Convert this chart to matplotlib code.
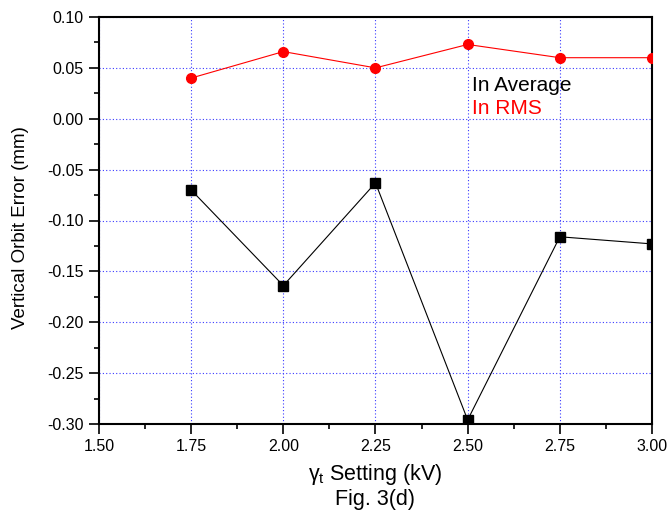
import matplotlib
matplotlib.use("Agg")
import matplotlib.pyplot as plt
from matplotlib.ticker import MultipleLocator, FormatStrFormatter

plt.rcParams['font.family'] = ['Liberation Sans', 'DejaVu Sans']
plt.rcParams['mathtext.fontset'] = 'custom'
plt.rcParams['mathtext.rm'] = 'Liberation Sans'
plt.rcParams['mathtext.it'] = 'Liberation Sans'
plt.rcParams['mathtext.bf'] = 'Liberation Sans:bold'

# Data
settings_kv = [1.75, 2.00, 2.25, 2.50, 2.75, 3.00]
error_average = [-0.070, -0.164, -0.063, -0.296, -0.116, -0.123]
error_rms = [0.040, 0.066, 0.050, 0.073, 0.060, 0.060]

fig = plt.figure(figsize=(6.7, 5.19), dpi=100)
ax = fig.add_axes([99/670, 1-424/519, (652-99)/670, (424-17)/519])

ax.plot(settings_kv, error_average, color='black', lw=0.8, marker='s',
        markersize=6.5, markerfacecolor='black', markeredgecolor='black', zorder=3)
ax.plot(settings_kv, error_rms, color='red', lw=0.8, marker='o',
        markersize=7, markerfacecolor='red', markeredgecolor='red', zorder=3)

ax.set_xlim(1.5, 3.0)
ax.set_ylim(-0.30, 0.10)
ax.xaxis.set_major_locator(MultipleLocator(0.25))
ax.xaxis.set_minor_locator(MultipleLocator(0.125))
ax.yaxis.set_major_locator(MultipleLocator(0.05))
ax.yaxis.set_minor_locator(MultipleLocator(0.025))
ax.xaxis.set_major_formatter(FormatStrFormatter('%.2f'))
ax.yaxis.set_major_formatter(FormatStrFormatter('%.2f'))

ax.grid(True, which='major', color='#3a3aff', linestyle=(0, (1, 2)), lw=0.8)
ax.set_axisbelow(True)

ax.tick_params(which='major', direction='out', length=7, width=1.2,
               labelsize=11.5, pad=4, top=False, right=False)
ax.tick_params(which='minor', direction='out', length=3.5, width=1.2,
               top=False, right=False)
for s in ax.spines.values():
    s.set_linewidth(1.5)

fig.text(21/670, 1-228/519, 'Vertical Orbit Error (mm)', rotation=90,
         ha='center', va='center', fontsize=13.5)
fig.text(375/670, 1-480/519, r'$\gamma_{\mathrm{t}}$ Setting (kV)',
         ha='center', va='baseline', fontsize=15.5)
fig.text(375/670, 1-505/519, 'Fig. 3(d)', ha='center', va='baseline', fontsize=15.5)

fig.text(472/670, 1-91/519, 'In Average', color='black', ha='left',
         va='baseline', fontsize=15)
fig.text(472/670, 1-114/519, 'In RMS', color='red', ha='left',
         va='baseline', fontsize=15)

fig.savefig('out.png', dpi=100)
